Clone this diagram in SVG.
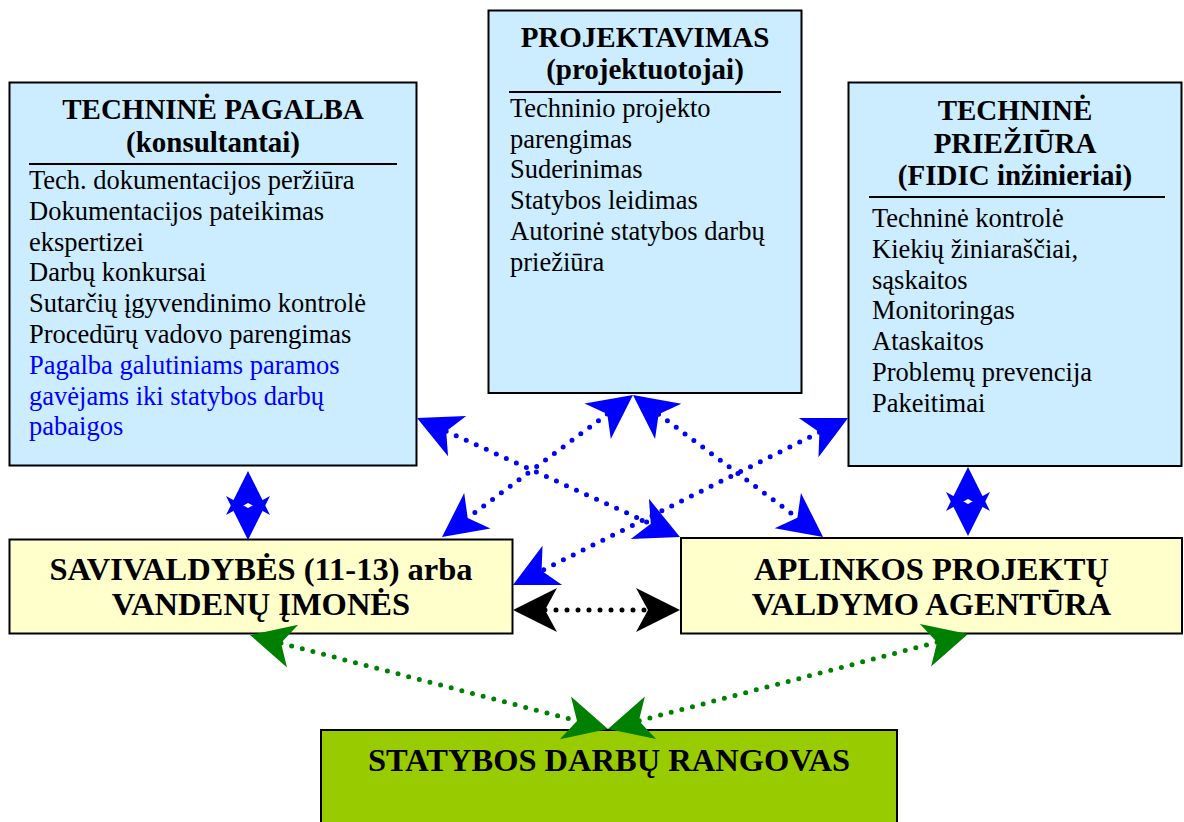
<svg xmlns="http://www.w3.org/2000/svg" width="1184" height="822" viewBox="0 0 1184 822">
  <style>
    .box { stroke: #000; stroke-width: 2; }
    .blue { fill: #CCECFF; }
    .yellow { fill: #FFFFCC; }
    .green { fill: #99CC00; }
    .rule { stroke: #000; stroke-width: 2; }
    text { font-family: "Liberation Serif", "Times New Roman", serif; fill: #000; }
    .title { font-size: 29px; font-weight: bold; text-anchor: middle; }
    .body { font-size: 26.5px; }
    .hl { fill: #0000FF; }
    .big { font-size: 32.5px; font-weight: bold; text-anchor: middle; }
    .dots { fill: none; stroke-width: 5; stroke-linecap: round; stroke-dasharray: 0 11; }
    .c-blue { stroke: #0000FF; }
    .c-black { stroke: #000; }
    .c-green { stroke: #008000; }
    .stub { fill: none; stroke: none; }
  </style>
  <defs>
    <!-- stealth arrowheads; reference point sits at the notch, tip 32px ahead -->
    <marker id="ah-blue" markerUnits="userSpaceOnUse" orient="auto-start-reverse" viewBox="-15 -25 50 50" markerWidth="50" markerHeight="50" refX="0" refY="0" overflow="visible">
      <path d="M32,0 L-12,-22 L0,0 L-12,22 Z" fill="#0000FF"/>
    </marker>
    <marker id="ah-black" markerUnits="userSpaceOnUse" orient="auto-start-reverse" viewBox="-15 -25 50 50" markerWidth="50" markerHeight="50" refX="0" refY="0" overflow="visible">
      <path d="M32,0 L-12,-22 L0,0 L-12,22 Z" fill="#000"/>
    </marker>
    <marker id="ah-green" markerUnits="userSpaceOnUse" orient="auto-start-reverse" viewBox="-15 -25 50 50" markerWidth="50" markerHeight="50" refX="0" refY="0" overflow="visible">
      <path d="M32,0 L-12,-22 L0,0 L-12,22 Z" fill="#008000"/>
    </marker>
  </defs>

  <rect width="1184" height="822" fill="#fff"/>

  <g id="techninis-pagalba">
    <rect class="box blue" x="9.5" y="82.5" width="407" height="383"/>
    <text class="title" x="213" y="119">TECHNINĖ PAGALBA</text>
    <text class="title" x="213" y="152">(konsultantai)</text>
    <line class="rule" x1="29" y1="164" x2="397" y2="164"/>
    <text class="body" x="29" y="189">Tech. dokumentacijos peržiūra</text>
    <text class="body" x="29" y="219.8">Dokumentacijos pateikimas</text>
    <text class="body" x="29" y="250.6">ekspertizei</text>
    <text class="body" x="29" y="281.4">Darbų konkursai</text>
    <text class="body" x="29" y="312.2">Sutarčių įgyvendinimo kontrolė</text>
    <text class="body" x="29" y="343">Procedūrų vadovo parengimas</text>
    <text class="body hl" x="29" y="373.8">Pagalba galutiniams paramos</text>
    <text class="body hl" x="29" y="404.6">gavėjams iki statybos darbų</text>
    <text class="body hl" x="29" y="435.4">pabaigos</text>
  </g>

  <g id="projektavimas">
    <rect class="box blue" x="488.5" y="10.5" width="313" height="382.5"/>
    <text class="title" x="645" y="47">PROJEKTAVIMAS</text>
    <text class="title" x="645" y="79">(projektuotojai)</text>
    <line class="rule" x1="509" y1="92" x2="781" y2="92"/>
    <text class="body" x="510" y="117">Techninio projekto</text>
    <text class="body" x="510" y="147.7">parengimas</text>
    <text class="body" x="510" y="178.4">Suderinimas</text>
    <text class="body" x="510" y="209.1">Statybos leidimas</text>
    <text class="body" x="510" y="239.8">Autorinė statybos darbų</text>
    <text class="body" x="510" y="270.5">priežiūra</text>
  </g>

  <g id="techninis-prieziura">
    <rect class="box blue" x="848.5" y="82.5" width="333" height="383.5"/>
    <text class="title" x="1015" y="120">TECHNINĖ</text>
    <text class="title" x="1015" y="152.5">PRIEŽIŪRA</text>
    <text class="title" x="1015" y="185">(FIDIC inžinieriai)</text>
    <line class="rule" x1="869" y1="197" x2="1165" y2="197"/>
    <text class="body" x="872" y="227">Techninė kontrolė</text>
    <text class="body" x="872" y="257.8">Kiekių žiniaraščiai,</text>
    <text class="body" x="872" y="288.6">sąskaitos</text>
    <text class="body" x="872" y="319.4">Monitoringas</text>
    <text class="body" x="872" y="350.2">Ataskaitos</text>
    <text class="body" x="872" y="381">Problemų prevencija</text>
    <text class="body" x="872" y="411.8">Pakeitimai</text>
  </g>

  <g id="savivaldybes">
    <rect class="box yellow" x="9.5" y="539.5" width="503" height="94"/>
    <text class="big" x="261" y="580">SAVIVALDYBĖS (11-13) arba</text>
    <text class="big" x="261" y="615">VANDENŲ ĮMONĖS</text>
  </g>

  <g id="agentura">
    <rect class="box yellow" x="681" y="538" width="501" height="95.5"/>
    <text class="big" x="931.5" y="580">APLINKOS PROJEKTŲ</text>
    <text class="big" x="931.5" y="615">VALDYMO AGENTŪRA</text>
  </g>

  <g id="rangovas">
    <rect class="box green" x="321" y="730" width="576" height="110"/>
    <text class="big" x="609" y="771">STATYBOS DARBŲ RANGOVAS</text>
  </g>

  <g id="connectors">
    <!-- blue links around the consultants, designers and supervisors -->
    <path class="dots c-blue" d="M446.2,431.2 L650.8,523.8" marker-start="url(#ah-blue)" marker-end="url(#ah-blue)"/>
    <path class="dots c-blue" d="M607.3,414.1 L467.7,517.9" marker-start="url(#ah-blue)" marker-end="url(#ah-blue)"/>
    <path class="dots c-blue" d="M658.6,414.2 L797.4,517.8" marker-start="url(#ah-blue)" marker-end="url(#ah-blue)"/>
    <path class="dots c-blue" d="M819.4,432.3 L541.6,570.7" marker-start="url(#ah-blue)" marker-end="url(#ah-blue)"/>
    <!-- short vertical double heads between stacked boxes -->
    <path class="stub" d="M248,503 L248,508" marker-start="url(#ah-blue)" marker-end="url(#ah-blue)"/>
    <path class="stub" d="M968,499 L968,504" marker-start="url(#ah-blue)" marker-end="url(#ah-blue)"/>
    <!-- municipality to agency -->
    <path class="dots c-black" d="M545,610 L648,610" marker-start="url(#ah-black)" marker-end="url(#ah-black)"/>
    <!-- contractor links -->
    <path class="dots c-green" d="M281,643.1 L577,720.9" marker-start="url(#ah-green)" marker-end="url(#ah-green)"/>
    <path class="dots c-green" d="M937.1,642.2 L638.9,720.8" marker-start="url(#ah-green)" marker-end="url(#ah-green)"/>
  </g>
</svg>
